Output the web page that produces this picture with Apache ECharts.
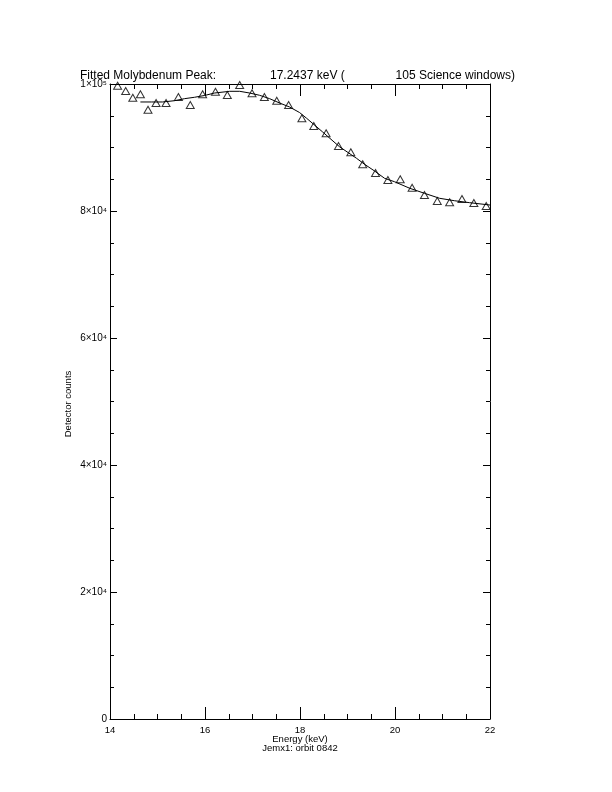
<!DOCTYPE html>
<html><head><meta charset="utf-8">
<script src="https://cdn.jsdelivr.net/npm/echarts@6/dist/echarts.min.js"></script>
<style>html,body{margin:0;padding:0;background:#fff}#c{width:612px;height:792px}</style>
</head><body><div id="c"></div>
<script>
// Measured data points (energy keV, detector counts)
const energy = [14.16,14.33,14.48,14.64,14.80,14.97,15.18,15.44,15.69,15.95,16.22,16.47,16.73,16.99,17.25,17.51,17.76,18.04,18.29,18.55,18.81,19.07,19.32,19.59,19.85,20.11,20.36,20.62,20.89,21.15,21.41,21.66,21.92];
const counts = [99730,98900,97840,98380,95950,97010,97010,97950,96690,98380,98790,98270,99840,98540,97950,97370,96690,94600,93390,92240,90240,89240,87350,85980,84880,84990,83670,82520,81580,81370,81890,81260,80790];
// Fitted curve
const fitEnergy = [14.64,14.87,15.11,15.36,15.57,15.78,15.99,16.20,16.52,16.73,16.94,17.15,17.36,17.57,17.78,17.99,18.14,18.47,18.83,19.19,19.36,19.57,19.78,19.99,20.31,20.62,20.94,21.25,21.57,22.0];
const fitCounts = [97170,97170,97170,97370,97690,97910,98190,98580,98850,98850,98580,98220,97690,97010,96380,95510,94600,92490,90130,88300,87350,86300,85150,84610,83580,82790,82000,81620,81310,80940];
const xTicks = [14,16,18,20,22];
const yTickLabels = {0:'0',20000:'2×10⁴',40000:'4×10⁴',60000:'6×10⁴',80000:'8×10⁴',100000:'1×10⁵'};
const titleParts = ['Fitted Molybdenum Peak:','17.2437 keV (','105 Science windows)'];
const xTitle = 'Energy (keV)';
const xSubTitle = 'Jemx1: orbit 0842';
const yTitle = 'Detector counts';

const FONT = 'Liberation Sans';
const chart = echarts.init(document.getElementById('c'), null, {renderer:'canvas'});
const axisLine = {show:true, onZero:false, lineStyle:{color:'#000', width:1}};
const xBase = {type:'value', min:14, max:22, interval:2, axisLine,
  splitLine:{show:false},
  axisTick:{show:true, inside:true, length:12, lineStyle:{color:'#000'}},
  minorTick:{show:true, splitNumber:4, length:5, lineStyle:{color:'#000'}}};
const yBase = {type:'value', min:0, max:100000, interval:20000, axisLine,
  splitLine:{show:false},
  axisTick:{show:true, inside:true, length:7, lineStyle:{color:'#000'}},
  minorTick:{show:true, splitNumber:4, length:4, lineStyle:{color:'#000'}}};
chart.setOption({
  animation:false,
  backgroundColor:'#fff',
  grid:{left:110, right:122, top:84, bottom:73, containLabel:false},
  xAxis:[
    Object.assign({}, xBase, {position:'bottom',
      axisLabel:{show:true, margin:6, color:'#000', fontFamily:FONT, fontSize:9.5,
        formatter:v=>xTicks.includes(v)?String(v):''}}),
    Object.assign({}, xBase, {position:'top', axisLabel:{show:false}})
  ],
  yAxis:[
    Object.assign({}, yBase, {position:'left',
      axisLabel:{show:true, margin:3, color:'#000', fontFamily:FONT, fontSize:10,
        formatter:v=>yTickLabels[v]!==undefined?yTickLabels[v]:''}}),
    Object.assign({}, yBase, {position:'right', axisLabel:{show:false}})
  ],
  series:[
    {type:'line', data:fitEnergy.map((e,i)=>[e,fitCounts[i]]), showSymbol:false, symbol:'none',
     lineStyle:{color:'#000', width:1}, silent:true, z:2},
    {type:'scatter', data:energy.map((e,i)=>[e,counts[i]]), symbol:'triangle', symbolSize:[8,7],
     itemStyle:{color:'rgba(0,0,0,0)', borderColor:'#000', borderWidth:1}, z:3}
  ],
  graphic:[
    {type:'text', x:80, y:76, style:{text:titleParts[0], font:'12px '+FONT, fill:'#000', verticalAlign:'middle'}},
    {type:'text', x:270, y:76, style:{text:titleParts[1], font:'12px '+FONT, fill:'#000', verticalAlign:'middle'}},
    {type:'text', x:515, y:76, style:{text:titleParts[2], font:'12px '+FONT, fill:'#000', align:'right', verticalAlign:'middle'}},
    {type:'text', x:300, y:739, style:{text:xTitle, font:'9.5px '+FONT, fill:'#000', align:'center', verticalAlign:'middle'}},
    {type:'text', x:300, y:748, style:{text:xSubTitle, font:'9.5px '+FONT, fill:'#000', align:'center', verticalAlign:'middle'}},
    {type:'text', x:68, y:404, rotation:Math.PI/2, style:{text:yTitle, font:'9.5px '+FONT, fill:'#000', align:'center', verticalAlign:'middle'}}
  ]
});
</script></body></html>
